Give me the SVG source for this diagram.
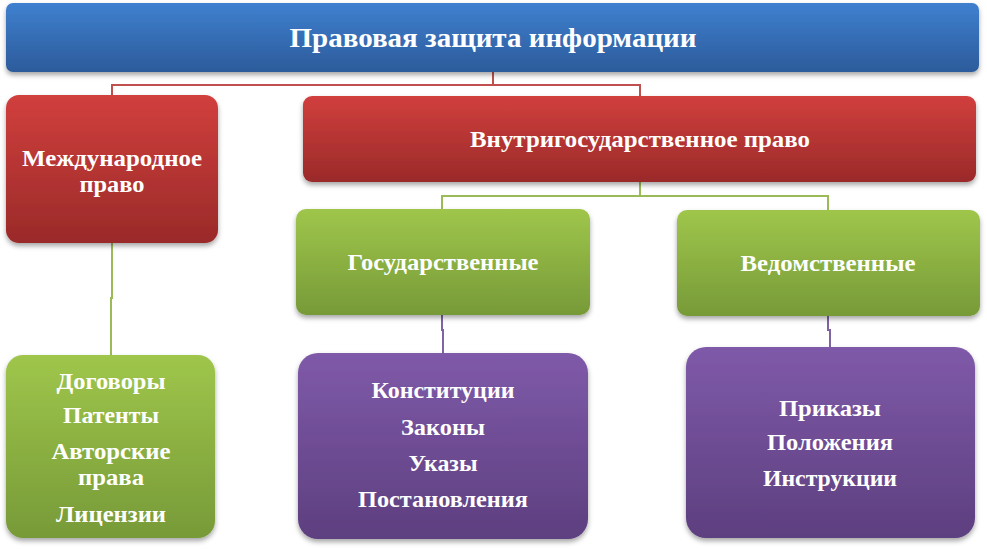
<svg xmlns="http://www.w3.org/2000/svg" width="987" height="549" viewBox="0 0 987 549">
<defs>
<linearGradient id="gBlue" x1="0" y1="0" x2="0" y2="1"><stop offset="0" stop-color="#3f80cf"/><stop offset="1" stop-color="#2c5b9b"/></linearGradient>
<linearGradient id="gRed" x1="0" y1="0" x2="0" y2="1"><stop offset="0" stop-color="#d13f3d"/><stop offset="1" stop-color="#9a2a29"/></linearGradient>
<linearGradient id="gGreen" x1="0" y1="0" x2="0" y2="1"><stop offset="0" stop-color="#9fc64b"/><stop offset="1" stop-color="#779a38"/></linearGradient>
<linearGradient id="gPurple" x1="0" y1="0" x2="0" y2="1"><stop offset="0" stop-color="#7f5aa9"/><stop offset="1" stop-color="#5d3f7f"/></linearGradient>
<filter id="sh" x="-10%" y="-10%" width="120%" height="130%"><feDropShadow dx="0" dy="3" stdDeviation="2.5" flood-color="#000" flood-opacity="0.35"/></filter>
</defs>
<style>
text{font-family:"Liberation Serif","Times New Roman",serif;font-weight:bold;fill:#fff;text-anchor:middle}
.t1{font-size:28px}
.t2{font-size:24px}
.t3{font-size:23px}
.c{fill:none;stroke-width:2}
</style>
<rect width="987" height="549" fill="#fff"/>
<g id="connectors">
<polyline class="c" stroke="#c0504d" points="493,72 493,85 112,85 112,96"/>
<polyline class="c" stroke="#c0504d" points="493,85 640,85 640,97"/>
<polyline class="c" stroke="#9bbb59" points="640,182 640,196 442,196 442,210"/>
<polyline class="c" stroke="#9bbb59" points="640,196 828,196 828,211"/>
<polyline class="c" stroke="#9bbb59" points="112,243 112,298 111,298 111,356"/>
<polyline class="c" stroke="#8064a2" points="442,315 442,330 443,330 443,354"/>
<polyline class="c" stroke="#8064a2" points="828,316 828,330 830,330 830,348"/>
</g>
<g id="root">
<rect x="6" y="3" width="973" height="69" rx="7" fill="url(#gBlue)" filter="url(#sh)"/>
<text class="t1" x="493" y="47" textLength="407" lengthAdjust="spacingAndGlyphs">Правовая защита информации</text>
</g>
<g id="intl">
<rect x="6" y="95" width="212" height="148" rx="13" fill="url(#gRed)" filter="url(#sh)"/>
<text class="t2" x="112" y="166" textLength="180" lengthAdjust="spacingAndGlyphs">Международное</text>
<text class="t2" x="112" y="192" textLength="65" lengthAdjust="spacingAndGlyphs">право</text>
</g>
<g id="domestic">
<rect x="303" y="96" width="673" height="86" rx="9" fill="url(#gRed)" filter="url(#sh)"/>
<text class="t2" x="640" y="147" textLength="340" lengthAdjust="spacingAndGlyphs">Внутригосударственное право</text>
</g>
<g id="state">
<rect x="296" y="209" width="294" height="106" rx="10" fill="url(#gGreen)" filter="url(#sh)"/>
<text class="t2" x="443" y="270" textLength="191" lengthAdjust="spacingAndGlyphs">Государственные</text>
</g>
<g id="dept">
<rect x="677" y="210" width="303" height="106" rx="10" fill="url(#gGreen)" filter="url(#sh)"/>
<text class="t2" x="828" y="271" textLength="175" lengthAdjust="spacingAndGlyphs">Ведомственные</text>
</g>
<g id="intl-list">
<rect x="6" y="355" width="209" height="183" rx="17" fill="url(#gGreen)" filter="url(#sh)"/>
<text class="t3" x="111" y="389" textLength="109" lengthAdjust="spacingAndGlyphs">Договоры</text>
<text class="t3" x="111" y="423" textLength="96" lengthAdjust="spacingAndGlyphs">Патенты</text>
<text class="t3" x="111" y="459" textLength="119" lengthAdjust="spacingAndGlyphs">Авторские</text>
<text class="t3" x="111" y="485" textLength="66" lengthAdjust="spacingAndGlyphs">права</text>
<text class="t3" x="111" y="522" textLength="110" lengthAdjust="spacingAndGlyphs">Лицензии</text>
</g>
<g id="state-list">
<rect x="298" y="353" width="290" height="186" rx="20" fill="url(#gPurple)" filter="url(#sh)"/>
<text class="t3" x="443" y="398" textLength="143" lengthAdjust="spacingAndGlyphs">Конституции</text>
<text class="t3" x="443" y="435" textLength="84" lengthAdjust="spacingAndGlyphs">Законы</text>
<text class="t3" x="443" y="471" textLength="69" lengthAdjust="spacingAndGlyphs">Указы</text>
<text class="t3" x="443" y="507" textLength="170" lengthAdjust="spacingAndGlyphs">Постановления</text>
</g>
<g id="dept-list">
<rect x="686" y="347" width="289" height="191" rx="20" fill="url(#gPurple)" filter="url(#sh)"/>
<text class="t3" x="830" y="416" textLength="102" lengthAdjust="spacingAndGlyphs">Приказы</text>
<text class="t3" x="830" y="450" textLength="126" lengthAdjust="spacingAndGlyphs">Положения</text>
<text class="t3" x="830" y="486" textLength="134" lengthAdjust="spacingAndGlyphs">Инструкции</text>
</g>
</svg>
